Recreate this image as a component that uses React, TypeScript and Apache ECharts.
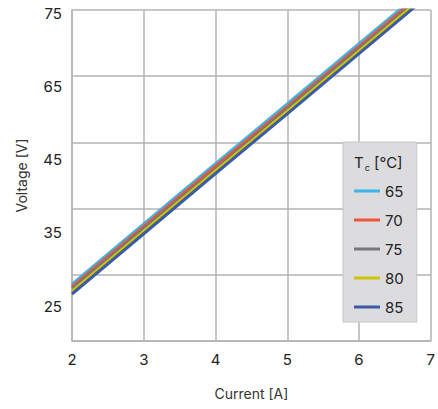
import React, { useEffect, useRef } from "react";
import * as echarts from "echarts";

const currents = [2, 3, 4, 5, 6, 7];
const seriesNames = ["65", "70", "75", "80", "85"];
const v65 = [33.6, 42.7, 51.8, 60.8, 69.9, 79.0];
const v70 = [33.2, 42.3, 51.4, 60.4, 69.5, 78.6];
const v75 = [32.9, 42.0, 51.0, 60.1, 69.2, 78.2];
const v80 = [32.5, 41.6, 50.7, 59.7, 68.8, 77.9];
const v85 = [32.1, 41.2, 50.3, 59.3, 68.4, 77.5];
const seriesValues = [v65, v70, v75, v80, v85];
const seriesColors = ["#3fb4e6", "#f0553a", "#777777", "#cfc400", "#3b5ba6"];
const yTickLabels = ["25", "35", "45", "65", "75"];

const FONT = "Inter, 'Noto Sans', sans-serif";
const GRID_COLOR = "#b3b3b3";

export default function App() {
  const ref = useRef<HTMLDivElement>(null);
  useEffect(() => {
    if (!ref.current) return;
    const chart = echarts.init(ref.current, null, { renderer: "svg" });
    chart.setOption({
      animation: false,
      textStyle: { fontFamily: FONT },
      grid: [
        { left: 72, width: 363, top: 10, bottom: 68 },
        { left: 72, width: 363, top: 13, bottom: 103 },
      ],
      title: {
        text: "{t|T}{s|c}{t| [°C]}",
        left: 354,
        top: 152,
        padding: 0,
        textStyle: {
          fontWeight: "normal",
          rich: {
            t: { fontSize: 15, lineHeight: 20, color: "#222", fontWeight: "normal", fontFamily: FONT },
            s: { fontSize: 9, lineHeight: 20, color: "#222", fontWeight: "normal", verticalAlign: "bottom", fontFamily: FONT, padding: [8, 0, 0, 1] },
          },
        },
      },
      legend: {
        data: seriesNames,
        orient: "vertical",
        left: 343,
        top: 142,
        padding: [40, 13, 6, 11],
        itemGap: 11,
        itemWidth: 26,
        itemHeight: 3,
        icon: "rect",
        backgroundColor: "#dcdcdf",
        borderColor: "#c6c6c6",
        borderWidth: 1,
        textStyle: { fontSize: 15, lineHeight: 18, color: "#222", fontFamily: FONT },
      },
      xAxis: [
        {
          type: "value",
          gridIndex: 0,
          min: 2,
          max: 7,
          interval: 1,
          name: "Current [A]",
          nameLocation: "middle",
          nameGap: 45,
          nameTextStyle: { fontSize: 14, color: "#333", fontFamily: FONT },
          axisLine: { show: true, lineStyle: { color: GRID_COLOR, width: 1.5 } },
          axisTick: { show: false },
          axisLabel: { fontSize: 15, color: "#222", margin: 11, fontFamily: FONT },
          splitLine: { show: true, lineStyle: { color: GRID_COLOR, width: 1.5 } },
        },
        { type: "value", gridIndex: 1, min: 0, max: 1, show: false },
      ],
      yAxis: [
        {
          type: "value",
          gridIndex: 0,
          min: 25,
          max: 75,
          interval: 10,
          name: "Voltage [V]",
          nameLocation: "middle",
          nameGap: 44,
          nameTextStyle: { fontSize: 14, color: "#333", fontFamily: FONT },
          axisLine: { show: true, lineStyle: { color: GRID_COLOR, width: 1.5 } },
          axisTick: { show: false },
          axisLabel: { show: false },
          splitLine: { show: true, lineStyle: { color: GRID_COLOR, width: 1.5 } },
        },
        {
          type: "category",
          gridIndex: 1,
          data: yTickLabels,
          boundaryGap: false,
          axisLine: { show: false },
          axisTick: { show: false },
          splitLine: { show: false },
          axisLabel: { fontSize: 15, color: "#222", margin: 10, fontFamily: FONT },
        },
      ],
      series: seriesNames.map((name, i) => ({
        name,
        type: "line",
        xAxisIndex: 0,
        yAxisIndex: 0,
        showSymbol: false,
        symbol: "none",
        lineStyle: { width: 3, color: seriesColors[i] },
        itemStyle: { color: seriesColors[i] },
        data: currents.map((c, j) => [c, seriesValues[i][j]]),
      })),
    });
    return () => chart.dispose();
  }, []);
  return <div ref={ref} style={{ width: 438, height: 409, position: "absolute", left: 0, top: 0 }} />;
}
